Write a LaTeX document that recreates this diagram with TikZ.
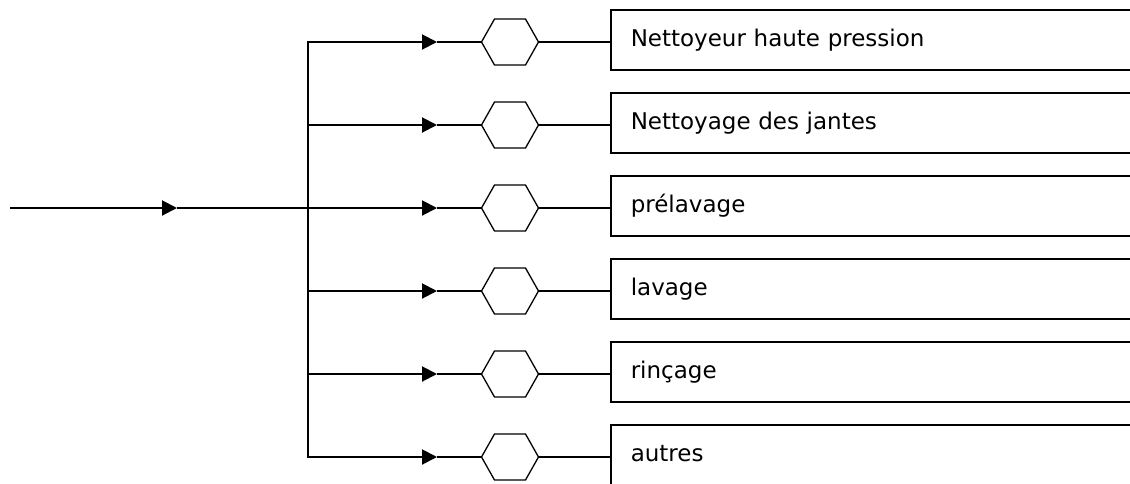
\documentclass[tikz,border=0pt]{standalone}
\usepackage{fontspec}
\setmainfont{DejaVu Sans}
\usetikzlibrary{arrows.meta}
\begin{document}
\begin{tikzpicture}[x=1pt,y=-1pt,
  thickline/.style={line width=2pt},
  thinline/.style={line width=1.3pt},
  arr/.style={-{Triangle[length=15pt,width=15pt]}},
  hexnode/.style={minimum width=57pt,minimum height=46pt,inner sep=0pt,outer sep=0pt},
  labelbox/.style={draw,line width=1.5pt,anchor=west,minimum height=60pt,
    text width=490pt,inner xsep=20pt,inner ysep=0pt,align=left,
    text height=17pt,text depth=5pt,font=\fontsize{23}{27}\selectfont}]
\useasboundingbox (0,0) rectangle (1130,483);
\clip (0,0) rectangle (1130,483);
\coordinate (in) at (10,208);
\coordinate (inarr) at (177,208);
\foreach \i/\txt in {1/Nettoyeur haute pression,2/Nettoyage des jantes,3/prélavage,4/lavage,5/rinçage,6/autres}{
  \pgfmathsetmacro\yy{42+83*(\i-1)}
  \coordinate (b\i) at (308,\yy);
  \coordinate (a\i) at (437,\yy);
  \node[hexnode] (h\i) at (510,\yy) {};
  \node[labelbox] (l\i) at (610,\yy-2) {\txt};
  \draw[thickline,arr] (b\i) -- (a\i);
  \draw[thinline] (a\i) -- (h\i.west);
  \draw[thinline] (h\i.east) -- (l\i.west |- h\i.east);
  \draw[thinline,line join=miter] (h\i.west) -- ([xshift=13pt]h\i.north west) -- ([xshift=-13pt]h\i.north east) -- (h\i.east) -- ([xshift=-13pt]h\i.south east) -- ([xshift=13pt]h\i.south west) -- cycle;
}
\draw[thickline,line cap=rect] (b1) -- (b6);
\draw[thickline,arr] (in) -- (inarr);
\draw[thinline] (inarr) -- (b3);
\end{tikzpicture}
\end{document}
